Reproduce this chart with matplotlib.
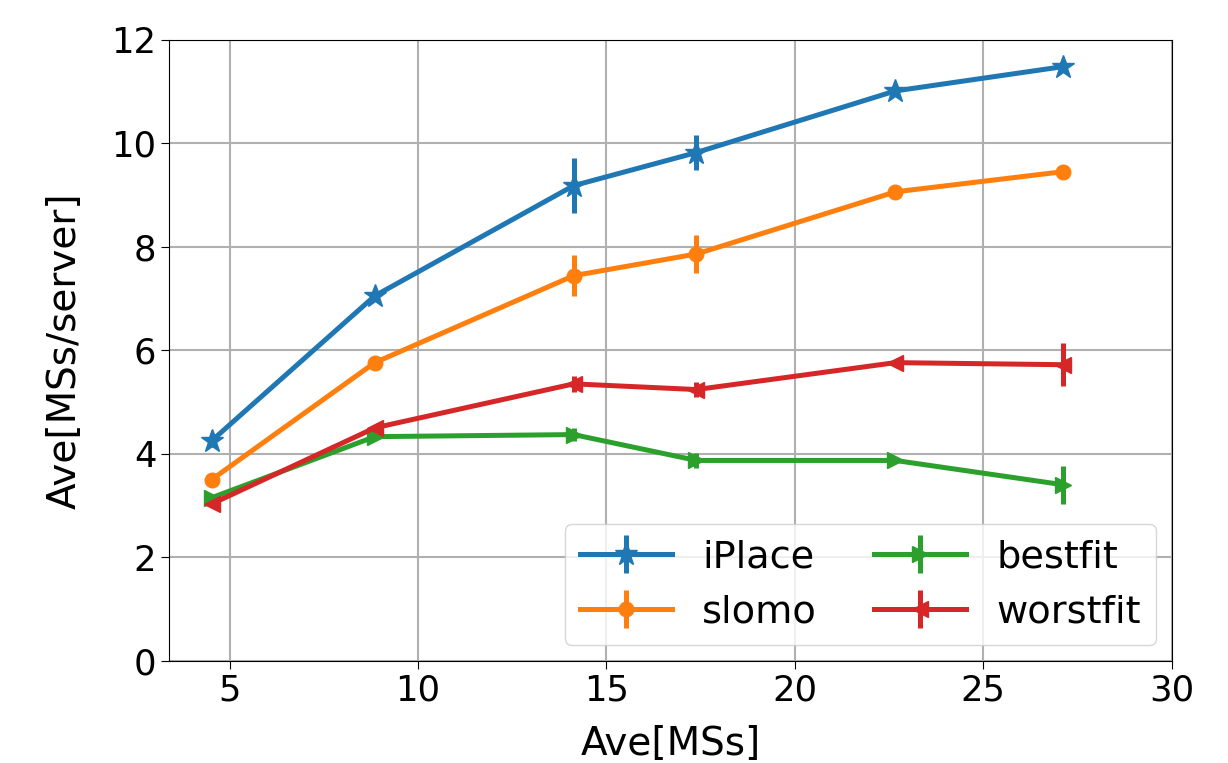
import numpy as np
import matplotlib
matplotlib.use('Agg')
import matplotlib.pyplot as plt

# Average MSs (x) for each experiment
ave_ms = [4.52, 8.85, 14.13, 17.39, 22.67, 27.13]

# Average MSs per server, with std error
iplace = [4.25, 7.05, 9.18, 9.82, 11.01, 11.48]
iplace_err = [0.12, 0.10, 0.53, 0.34, 0.08, 0.10]
slomo = [3.50, 5.76, 7.44, 7.86, 9.06, 9.45]
slomo_err = [0.05, 0.05, 0.40, 0.36, 0.05, 0.05]
bestfit = [3.15, 4.33, 4.37, 3.87, 3.87, 3.40]
bestfit_err = [0.05, 0.05, 0.12, 0.15, 0.05, 0.37]
worstfit = [3.03, 4.50, 5.35, 5.24, 5.76, 5.72]
worstfit_err = [0.05, 0.05, 0.15, 0.15, 0.05, 0.42]

series = [
    ('iPlace', iplace, iplace_err, '*', 17, 'tab:blue'),
    ('slomo', slomo, slomo_err, 'o', 10.5, 'tab:orange'),
    ('bestfit', bestfit, bestfit_err, '>', 11, 'tab:green'),
    ('worstfit', worstfit, worstfit_err, '<', 11, 'tab:red'),
]

plt.rcParams['font.size'] = 25.5
fig = plt.figure(figsize=(12.28, 7.63), dpi=100)
ax = fig.add_axes([0.138, 0.134, 0.816, 0.814])

for name, y, err, mk, ms, col in series:
    ax.errorbar(ave_ms, y, yerr=err, marker=mk, markersize=ms, color=col,
                linewidth=3.6, elinewidth=3.6, capsize=0, label=name)

ax.set_xlim(3.4, 30)
ax.set_ylim(0, 12)
ax.set_xticks([5, 10, 15, 20, 25, 30])
ax.set_yticks([0, 2, 4, 6, 8, 10, 12])
ax.tick_params(labelsize=25.5, length=6)
ax.grid(True, color='#b0b0b0', linewidth=1.5)
ax.set_xlabel('Ave[MSs]', fontsize=28, labelpad=12)
ax.set_ylabel('Ave[MSs/server]', fontsize=28, labelpad=20)
ax.legend(loc='lower right', ncol=2, fontsize=27.5, handlelength=2.4,
          columnspacing=1.5, borderaxespad=0.4)

fig.savefig('out.png', dpi=100)
